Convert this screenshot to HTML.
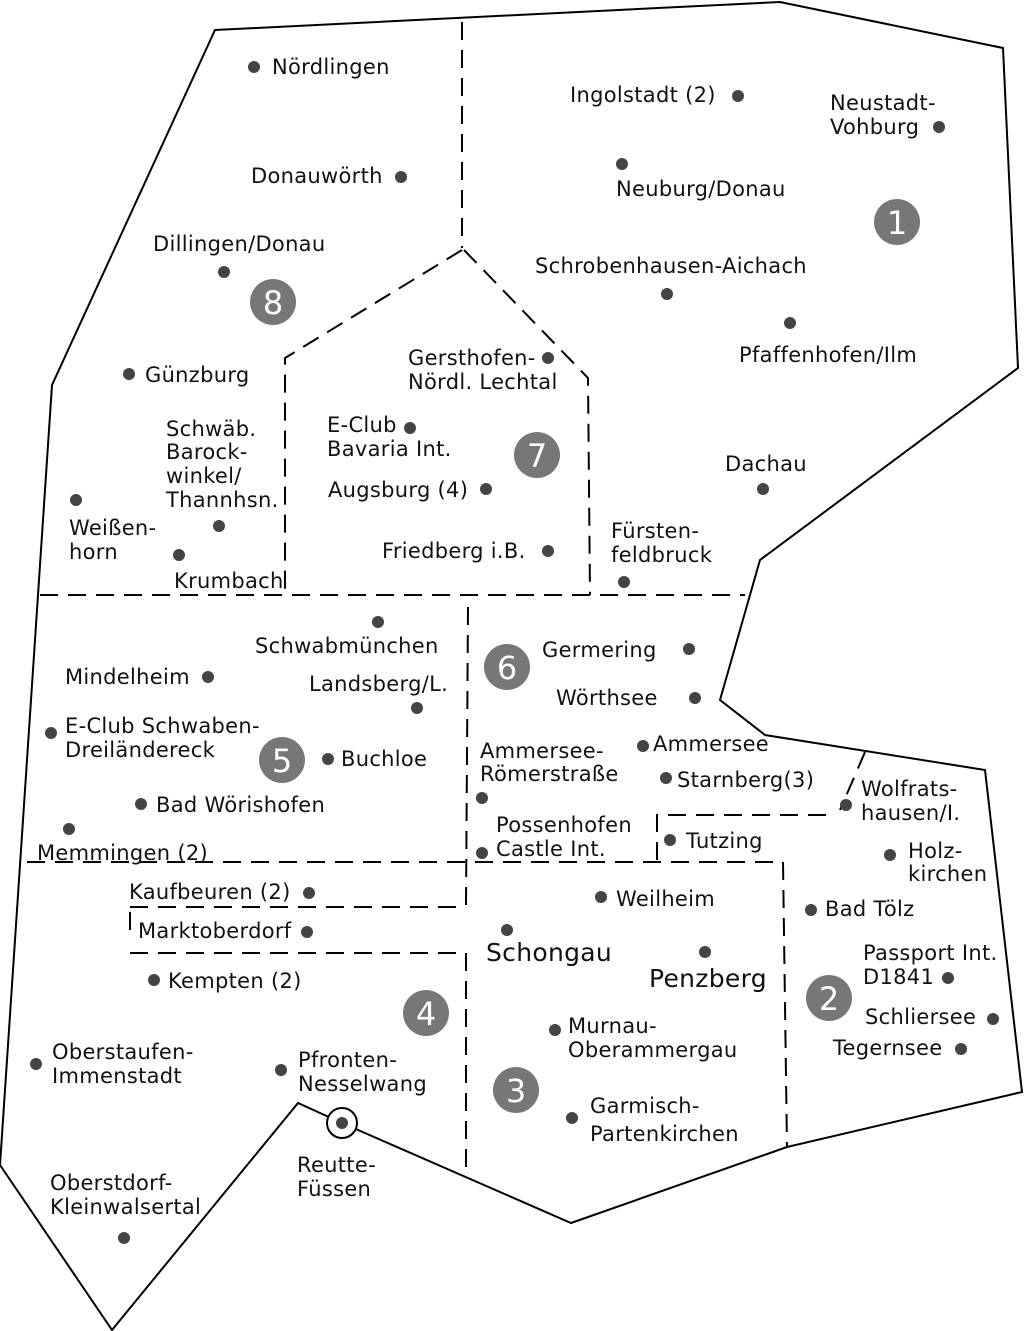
<!DOCTYPE html>
<html><head><meta charset="utf-8"><style>
html,body{margin:0;padding:0;background:#fff}
svg{display:block}
text{font-family:"DejaVu Sans","Liberation Sans",sans-serif;font-size:21px;letter-spacing:0.3px;fill:#111}
.b{font-size:32px;fill:#fff;text-anchor:middle;letter-spacing:0}
.L{font-size:25px}
</style></head><body>
<svg width="1024" height="1331" viewBox="0 0 1024 1331" xmlns="http://www.w3.org/2000/svg">
<polygon points="215,30 780,2 1003,48 1018,368 760,560 720,700 765,735 985,770 1022,1092 787,1147 571,1223 342,1123 298,1103 112,1330 0,1165 52,385" fill="none" stroke="#000" stroke-width="2"/>
<g fill="none" stroke="#000" stroke-width="2" stroke-dasharray="18 10">
<path d="M462,22 V248"/>
<path d="M462,250 L285,358 V595"/>
<path d="M464,250 L588,378 L590,595"/>
<path d="M40,595 H745"/>
<path d="M468,607 L466,905"/>
<path d="M27,862 H783 L787,1147"/>
<path d="M130,907 H466"/>
<path d="M130,912 V940"/>
<path d="M130,953 H466 V1170"/>
<path d="M657,860 V815 H835"/>
<path d="M865,752 L840,810"/>
</g>
<circle cx="342" cy="1123" r="15" fill="#fff" stroke="#000" stroke-width="2"/>
<g fill="#444">
<circle cx="342" cy="1123" r="6"/>
<circle cx="254" cy="67" r="6"/><circle cx="401" cy="177" r="6"/><circle cx="224" cy="272" r="6"/>
<circle cx="129" cy="374" r="6"/><circle cx="219" cy="526" r="6"/><circle cx="76" cy="500" r="6"/>
<circle cx="179" cy="555" r="6"/><circle cx="548" cy="358" r="6"/><circle cx="410" cy="428" r="6"/>
<circle cx="486" cy="489" r="6"/><circle cx="548" cy="551" r="6"/><circle cx="738" cy="96" r="6"/>
<circle cx="939" cy="127" r="6"/><circle cx="622" cy="164" r="6"/><circle cx="667" cy="294" r="6"/>
<circle cx="790" cy="323" r="6"/><circle cx="763" cy="489" r="6"/><circle cx="624" cy="582" r="6"/>
<circle cx="378" cy="622" r="6"/><circle cx="208" cy="677" r="6"/><circle cx="417" cy="708" r="6"/>
<circle cx="51" cy="733" r="6"/><circle cx="328" cy="759" r="6"/><circle cx="141" cy="804" r="6"/>
<circle cx="69" cy="829" r="6"/><circle cx="689" cy="649" r="6"/><circle cx="695" cy="698" r="6"/>
<circle cx="482" cy="798" r="6"/><circle cx="643" cy="746" r="6"/><circle cx="666" cy="778" r="6"/>
<circle cx="482" cy="853" r="6"/><circle cx="670" cy="840" r="6"/><circle cx="846" cy="805" r="6"/>
<circle cx="890" cy="855" r="6"/><circle cx="811" cy="910" r="6"/><circle cx="948" cy="978" r="6"/>
<circle cx="993" cy="1019" r="6"/><circle cx="961" cy="1049" r="6"/><circle cx="601" cy="897" r="6"/>
<circle cx="507" cy="930" r="6"/><circle cx="705" cy="952" r="6"/><circle cx="555" cy="1030" r="6"/>
<circle cx="572" cy="1118" r="6"/><circle cx="309" cy="893" r="6"/><circle cx="307" cy="932" r="6"/>
<circle cx="154" cy="980" r="6"/><circle cx="36" cy="1064" r="6"/><circle cx="281" cy="1070" r="6"/>
<circle cx="124" cy="1238" r="6"/>
</g>
<g fill="#777">
<circle cx="897" cy="222" r="23"/><circle cx="273" cy="302" r="23"/><circle cx="537" cy="455" r="23"/>
<circle cx="507" cy="667" r="23"/><circle cx="282" cy="760" r="23"/><circle cx="426" cy="1013" r="23"/>
<circle cx="516" cy="1090" r="23"/><circle cx="829" cy="998" r="23"/>
</g>
<text class="b" x="897" y="234">1</text><text class="b" x="273" y="314">8</text><text class="b" x="537" y="467">7</text>
<text class="b" x="507" y="679">6</text><text class="b" x="282" y="772">5</text><text class="b" x="426" y="1025">4</text>
<text class="b" x="516" y="1102">3</text><text class="b" x="829" y="1010">2</text>
<text x="272" y="74">Nördlingen</text>
<text x="251" y="183">Donauwörth</text>
<text x="153" y="251">Dillingen/Donau</text>
<text x="145" y="382">Günzburg</text>
<text x="166" y="436">Schwäb.</text><text x="166" y="459">Barock-</text><text x="166" y="483">winkel/</text><text x="166" y="507">Thannhsn.</text>
<text x="69" y="535">Weißen-</text><text x="69" y="559">horn</text>
<text x="174" y="588">Krumbach</text>
<text x="408" y="365">Gersthofen-</text><text x="408" y="389">Nördl. Lechtal</text>
<text x="327" y="432">E-Club</text><text x="327" y="456">Bavaria Int.</text>
<text x="328" y="497">Augsburg (4)</text>
<text x="382" y="558">Friedberg i.B.</text>
<text x="570" y="102">Ingolstadt (2)</text>
<text x="830" y="110">Neustadt-</text><text x="830" y="134">Vohburg</text>
<text x="616" y="196">Neuburg/Donau</text>
<text x="535" y="273">Schrobenhausen-Aichach</text>
<text x="739" y="362">Pfaffenhofen/Ilm</text>
<text x="725" y="471">Dachau</text>
<text x="611" y="538">Fürsten-</text><text x="611" y="562">feldbruck</text>
<text x="255" y="653">Schwabmünchen</text>
<text x="65" y="684">Mindelheim</text>
<text x="309" y="691">Landsberg/L.</text>
<text x="65" y="733">E-Club Schwaben-</text><text x="65" y="757">Dreiländereck</text>
<text x="341" y="766">Buchloe</text>
<text x="156" y="812">Bad Wörishofen</text>
<text x="37" y="860">Memmingen (2)</text>
<text x="542" y="657">Germering</text>
<text x="556" y="705">Wörthsee</text>
<text x="480" y="758">Ammersee-</text><text x="480" y="781">Römerstraße</text>
<text x="653" y="751">Ammersee</text>
<text x="677" y="787">Starnberg(3)</text>
<text x="496" y="832">Possenhofen</text><text x="496" y="856">Castle Int.</text>
<text x="686" y="848">Tutzing</text>
<text x="861" y="796">Wolfrats-</text><text x="861" y="820">hausen/I.</text>
<text x="908" y="858">Holz-</text><text x="908" y="881">kirchen</text>
<text x="825" y="916">Bad Tölz</text>
<text x="863" y="960">Passport Int.</text><text x="863" y="984">D1841</text>
<text x="865" y="1024">Schliersee</text>
<text x="833" y="1055">Tegernsee</text>
<text x="616" y="906">Weilheim</text>
<text class="L" x="486" y="961">Schongau</text>
<text class="L" x="649" y="987">Penzberg</text>
<text x="568" y="1033">Murnau-</text><text x="568" y="1057">Oberammergau</text>
<text x="590" y="1113">Garmisch-</text><text x="590" y="1141">Partenkirchen</text>
<text x="129" y="899">Kaufbeuren (2)</text>
<text x="138" y="938">Marktoberdorf</text>
<text x="168" y="988">Kempten (2)</text>
<text x="52" y="1059">Oberstaufen-</text><text x="52" y="1083">Immenstadt</text>
<text x="298" y="1067">Pfronten-</text><text x="298" y="1091">Nesselwang</text>
<text x="297" y="1172">Reutte-</text><text x="297" y="1196">Füssen</text>
<text x="50" y="1190">Oberstdorf-</text><text x="50" y="1214">Kleinwalsertal</text>
</svg>
</body></html>
